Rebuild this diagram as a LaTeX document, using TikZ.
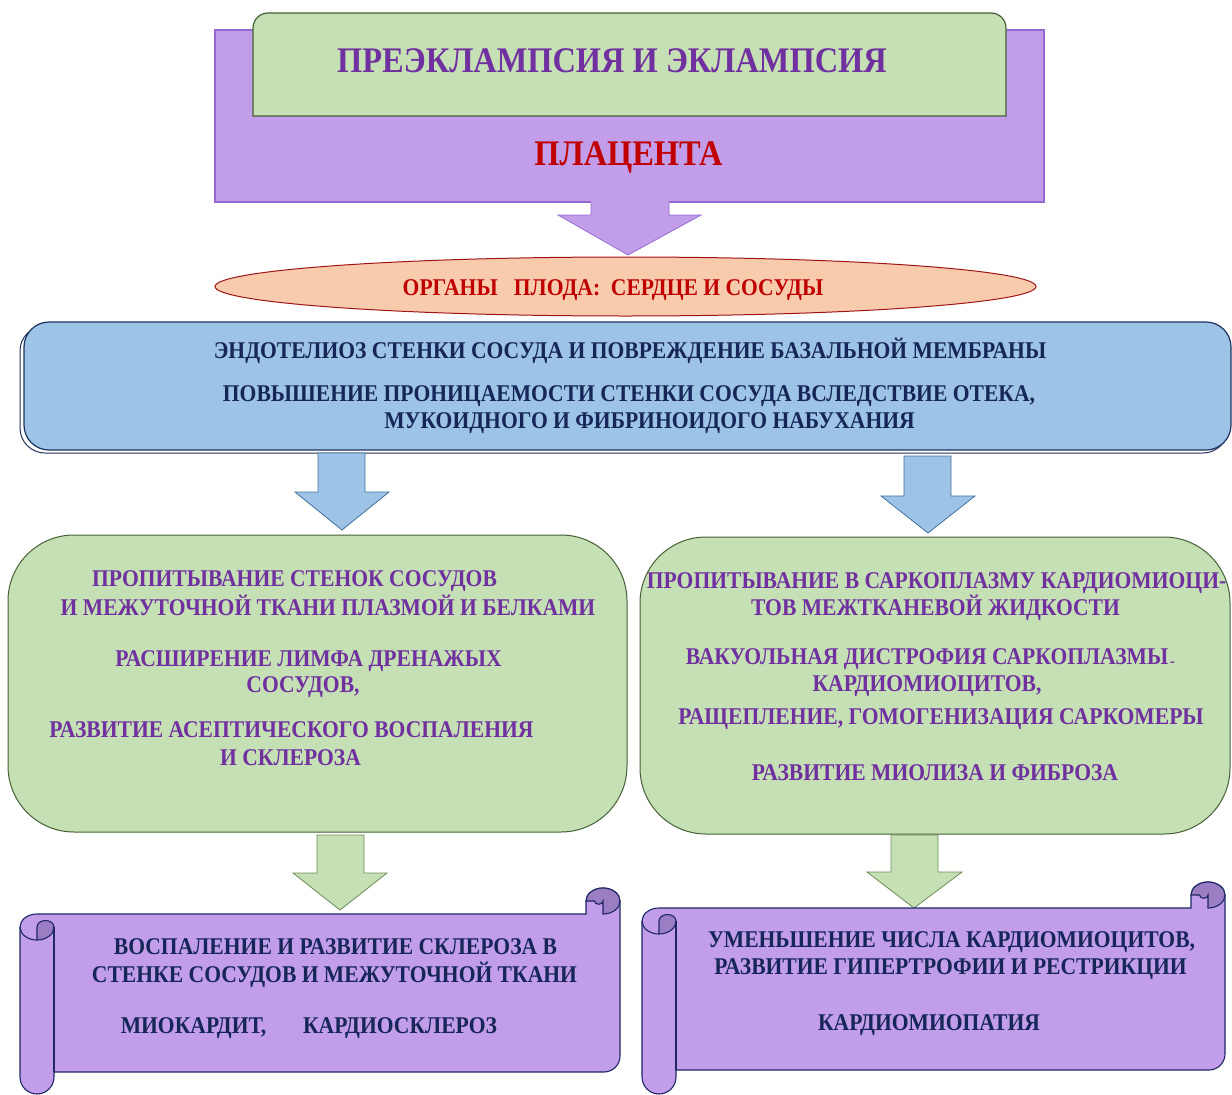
\documentclass[tikz,border=0pt]{standalone}
\usepackage{fontspec}
\setmainfont{Liberation Serif}[FakeStretch=0.9]
\definecolor{plum}{RGB}{193,157,234}
\definecolor{plumline}{RGB}{150,105,210}
\definecolor{leaf}{RGB}{197,224,180}
\definecolor{leafline}{RGB}{70,95,55}
\definecolor{leafarrow}{RGB}{110,140,85}
\definecolor{sky}{RGB}{157,195,230}
\definecolor{skyline}{RGB}{65,113,156}
\definecolor{navy}{RGB}{31,50,95}
\definecolor{peach}{RGB}{248,203,173}
\definecolor{brick}{RGB}{192,0,0}
\definecolor{ellline}{RGB}{160,20,20}
\definecolor{violet}{RGB}{112,48,160}
\definecolor{ink}{RGB}{22,38,88}
\definecolor{curl}{RGB}{155,125,195}
\definecolor{scrollline}{RGB}{30,40,100}
\tikzset{
  txt/.style={inner sep=0pt, anchor=base},
  fs/.style={font=\bfseries\fontsize{#1}{#1}\selectfont},
  vtxt/.style={txt, text=violet},
  ntxt/.style={txt, text=ink},
  scrollbody/.style={draw=scrollline, line width=1.1pt, fill=plum},
  curlpart/.style={draw=scrollline, line width=1.1pt, fill=curl},
  curlline/.style={draw=scrollline, line width=1.1pt},
  bluearrow/.style={draw=skyline, fill=sky, line width=0.8pt},
  greenarrow/.style={draw=leafarrow, fill=leaf, line width=0.8pt},
}
\begin{document}
\begin{tikzpicture}[x=1pt,y=-1pt]
\fill[white] (0,0) rectangle (1232,1095);
\useasboundingbox (0,0) rectangle (1232,1095);

% top block
\draw[plumline, fill=plum, line width=1.2pt] (215,30) rectangle (1044,202);
\draw[leafline, fill=leaf, line width=1.2pt] (253,116) -- (253,28) arc[start angle=180,end angle=270,radius=15] -- (991,13) arc[start angle=270,end angle=360,radius=15] -- (1006,116) -- cycle;
\node[vtxt, fs=36] (title) at (612,72) {ПРЕЭКЛАМПСИЯ И ЭКЛАМПСИЯ};
\node[txt, fs=36, text=brick] (placenta) at (628.5,165) {ПЛАЦЕНТА};

% purple arrow
\fill[plum] (591,200) -- (591,215) -- (558,215) -- (628,255) -- (701,215) -- (669,215) -- (669,200) -- cycle;
\draw[plumline, line width=0.8pt] (591,202.6) -- (591,215) -- (558,215) -- (628,255) -- (701,215) -- (669,215) -- (669,202.6);

% ellipse
\draw[ellline, fill=peach, line width=1pt] (625.5,286.5) ellipse [x radius=410.5, y radius=29.5];
\node[txt, fs=24, text=brick] (organs) at (613,295) {ОРГАНЫ\ \ \ ПЛОДА:\ \ СЕРДЦЕ И СОСУДЫ};

% blue block
\draw[navy, fill=white, line width=1pt, rounded corners=25] (20,326) rectangle (1228,453);
\draw[navy, fill=sky, line width=1.2pt, rounded corners=25] (24,322) rectangle (1231,450);
\node[ntxt, fs=24] (endo) at (630,358) {ЭНДОТЕЛИОЗ СТЕНКИ СОСУДА И ПОВРЕЖДЕНИЕ БАЗАЛЬНОЙ МЕМБРАНЫ};
\node[ntxt, fs=24] (perm1) at (629,401) {ПОВЫШЕНИЕ ПРОНИЦАЕМОСТИ СТЕНКИ СОСУДА ВСЛЕДСТВИЕ ОТЕКА,};
\node[ntxt, fs=24] (perm2) at (649.5,428) {МУКОИДНОГО И ФИБРИНОИДОГО НАБУХАНИЯ};

% blue arrows
\draw[bluearrow] (318,453) -- (365,453) -- (365,492) -- (389,492) -- (342,530) -- (295,492) -- (318,492) -- cycle;
\draw[bluearrow] (904,456) -- (951,456) -- (951,496) -- (975,496) -- (928,533) -- (881,496) -- (904,496) -- cycle;

% green boxes
\draw[leafline, fill=leaf, line width=1pt, rounded corners=66] (8,535) rectangle (627,832);
\draw[leafline, fill=leaf, line width=1pt, rounded corners=66] (640,537) rectangle (1230,834);

\node[vtxt, fs=24] (l1) at (294.5,586) {ПРОПИТЫВАНИЕ СТЕНОК СОСУДОВ};
\node[vtxt, fs=24] (l2) at (328,615) {И МЕЖУТОЧНОЙ ТКАНИ ПЛАЗМОЙ И БЕЛКАМИ};
\node[vtxt, fs=24] (l3) at (308.5,666) {РАСШИРЕНИЕ ЛИМФА ДРЕНАЖЫХ};
\node[vtxt, fs=24] (l4) at (303,692) {СОСУДОВ,};
\node[vtxt, fs=24] (l5) at (291.5,737) {РАЗВИТИЕ АСЕПТИЧЕСКОГО ВОСПАЛЕНИЯ};
\node[vtxt, fs=24] (l6) at (290.5,765) {И СКЛЕРОЗА};

\node[vtxt, fs=24] (r1) at (936.5,588) {ПРОПИТЫВАНИЕ В САРКОПЛАЗМУ КАРДИОМИОЦИ-};
\node[vtxt, fs=24] (r2) at (935.5,615) {ТОВ МЕЖТКАНЕВОЙ ЖИДКОСТИ};
\node[vtxt, fs=24] (r3) at (927,664) {ВАКУОЛЬНАЯ ДИСТРОФИЯ САРКОПЛАЗМЫ};
\node[vtxt, fs=16] (r3dash) at (1172.5,666) {-};
\node[vtxt, fs=24] (r4) at (927,691) {КАРДИОМИОЦИТОВ,};
\node[vtxt, fs=24] (r5) at (941,724) {РАЩЕПЛЕНИЕ, ГОМОГЕНИЗАЦИЯ САРКОМЕРЫ};
\node[vtxt, fs=24] (r6) at (935,780) {РАЗВИТИЕ МИОЛИЗА И ФИБРОЗА};

% green arrows
\draw[greenarrow] (317,835) -- (364,835) -- (364,873) -- (387,873) -- (340,910) -- (293,873) -- (317,873) -- cycle;
\draw[greenarrow] (891,835) -- (938,835) -- (938,872) -- (962,872) -- (914,908) -- (867,872) -- (891,872) -- cycle;

% left scroll
\draw[scrollbody] (20,927) arc[start angle=180,end angle=270,x radius=17,y radius=13] -- (586,914) -- (586,901)
  arc[start angle=180,end angle=360,x radius=17,y radius=13] -- (620,1056) arc[start angle=0,end angle=90,radius=16]
  -- (54,1072) -- (54,1077) arc[start angle=0,end angle=180,radius=17] -- cycle;
\draw[curlpart] (37,927) arc[start angle=180,end angle=360,x radius=8.5,y radius=6.5] arc[start angle=0,end angle=90,x radius=17,y radius=13] -- cycle;
\draw[curlline] (37,940) arc[start angle=90,end angle=180,x radius=17,y radius=13];
\draw[curlline] (54,927) -- (54,1072);
\draw[curlpart] (586,901) arc[start angle=180,end angle=360,x radius=17,y radius=13] arc[start angle=0,end angle=90,x radius=17,y radius=13] -- (603,901) arc[start angle=0,end angle=180,x radius=4.25,y radius=3.25] -- cycle;
\node[ntxt, fs=24] (s1) at (335.5,954) {ВОСПАЛЕНИЕ И РАЗВИТИЕ СКЛЕРОЗА В};
\node[ntxt, fs=24] (s2) at (334.5,982) {СТЕНКЕ СОСУДОВ И МЕЖУТОЧНОЙ ТКАНИ};
\node[ntxt, fs=24] (s3) at (193.5,1033) {МИОКАРДИТ,};
\node[ntxt, fs=24] (s4) at (400,1033) {КАРДИОСКЛЕРОЗ};

% right scroll
\draw[scrollbody] (642,921) arc[start angle=180,end angle=270,x radius=17,y radius=13] -- (1191,908) -- (1191,895)
  arc[start angle=180,end angle=360,x radius=17,y radius=13] -- (1225,1054) arc[start angle=0,end angle=90,radius=16]
  -- (676,1070) -- (676,1077) arc[start angle=0,end angle=180,radius=17] -- cycle;
\draw[curlpart] (659,921) arc[start angle=180,end angle=360,x radius=8.5,y radius=6.5] arc[start angle=0,end angle=90,x radius=17,y radius=13] -- cycle;
\draw[curlline] (659,934) arc[start angle=90,end angle=180,x radius=17,y radius=13];
\draw[curlline] (676,921) -- (676,1070);
\draw[curlpart] (1191,895) arc[start angle=180,end angle=360,x radius=17,y radius=13] arc[start angle=0,end angle=90,x radius=17,y radius=13] -- (1208,895) arc[start angle=0,end angle=180,x radius=4.25,y radius=3.25] -- cycle;
\node[ntxt, fs=24] (t1) at (951.5,947) {УМЕНЬШЕНИЕ ЧИСЛА КАРДИОМИОЦИТОВ,};
\node[ntxt, fs=24] (t2) at (950.5,974) {РАЗВИТИЕ ГИПЕРТРОФИИ И РЕСТРИКЦИИ};
\node[ntxt, fs=24] (t3) at (929,1030) {КАРДИОМИОПАТИЯ};
\end{tikzpicture}
\end{document}
